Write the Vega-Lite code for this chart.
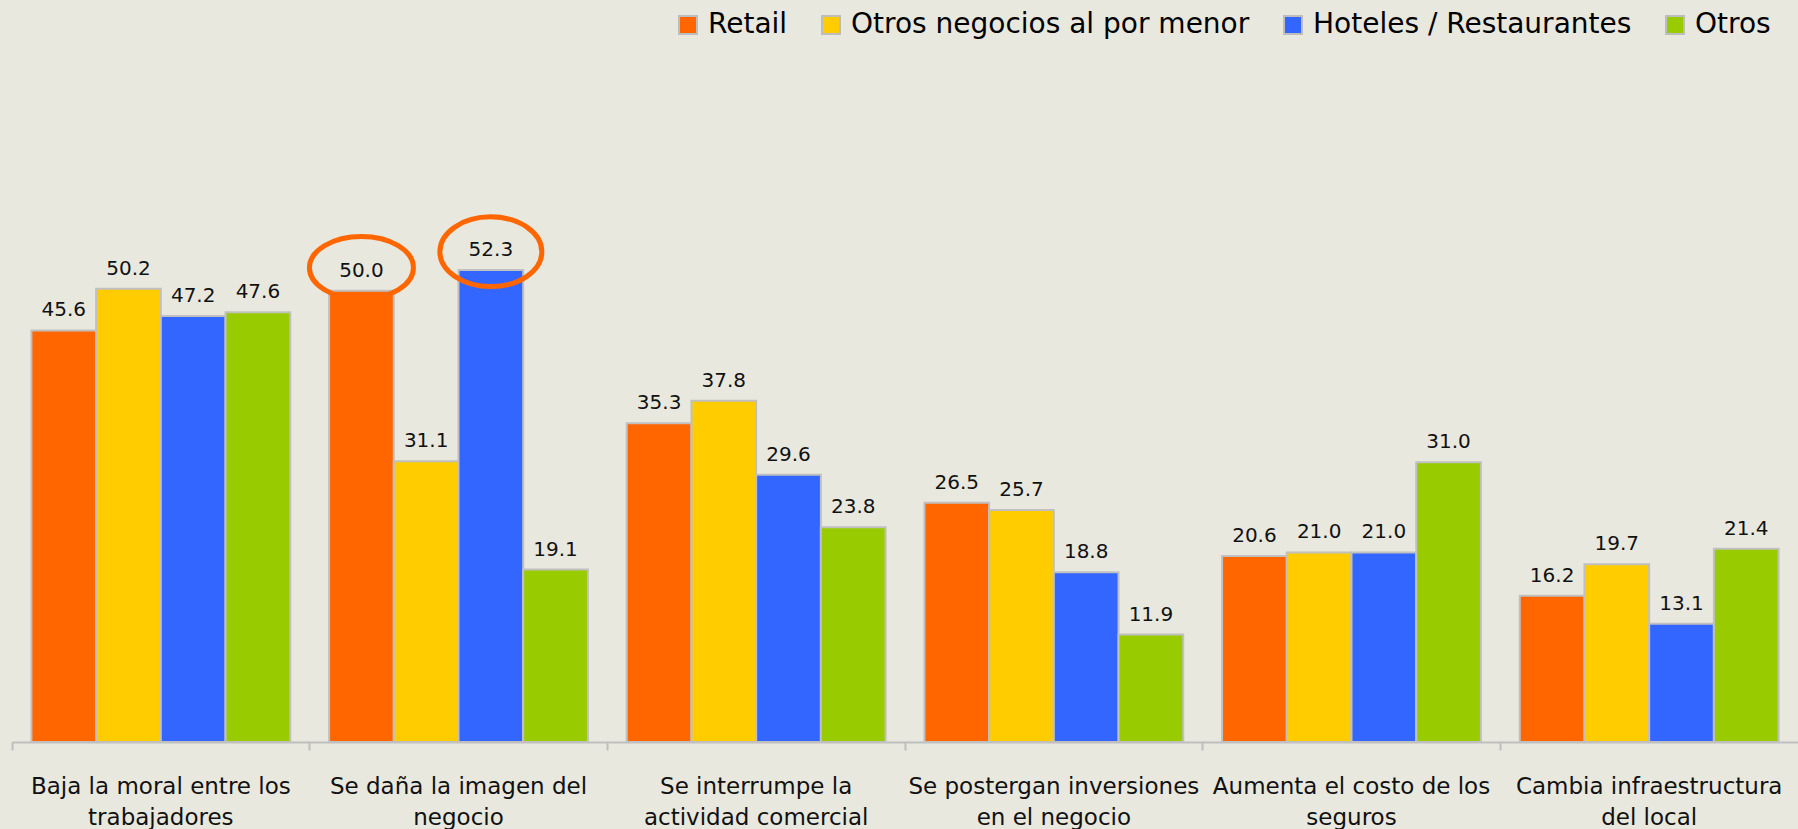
{
  "$schema": "https://vega.github.io/schema/vega-lite/v6.json",
  "width": 1786,
  "height": 742,
  "autosize": {"type": "none"},
  "padding": {"left": 12, "top": 0, "right": 0, "bottom": 87},
  "background": "#E8E8DE",
  "config": {"view": {"stroke": null}, "font": "DejaVu Sans"},
  "data": {
    "values": [
      {"category": "Baja la moral entre los trabajadores", "series": "Retail", "value": 45.6},
      {"category": "Baja la moral entre los trabajadores", "series": "Otros negocios al por menor", "value": 50.2},
      {"category": "Baja la moral entre los trabajadores", "series": "Hoteles / Restaurantes", "value": 47.2},
      {"category": "Baja la moral entre los trabajadores", "series": "Otros", "value": 47.6},
      {"category": "Se daña la imagen del negocio", "series": "Retail", "value": 50.0},
      {"category": "Se daña la imagen del negocio", "series": "Otros negocios al por menor", "value": 31.1},
      {"category": "Se daña la imagen del negocio", "series": "Hoteles / Restaurantes", "value": 52.3},
      {"category": "Se daña la imagen del negocio", "series": "Otros", "value": 19.1},
      {"category": "Se interrumpe la actividad comercial", "series": "Retail", "value": 35.3},
      {"category": "Se interrumpe la actividad comercial", "series": "Otros negocios al por menor", "value": 37.8},
      {"category": "Se interrumpe la actividad comercial", "series": "Hoteles / Restaurantes", "value": 29.6},
      {"category": "Se interrumpe la actividad comercial", "series": "Otros", "value": 23.8},
      {"category": "Se postergan inversiones en el negocio", "series": "Retail", "value": 26.5},
      {"category": "Se postergan inversiones en el negocio", "series": "Otros negocios al por menor", "value": 25.7},
      {"category": "Se postergan inversiones en el negocio", "series": "Hoteles / Restaurantes", "value": 18.8},
      {"category": "Se postergan inversiones en el negocio", "series": "Otros", "value": 11.9},
      {"category": "Aumenta el costo de los seguros", "series": "Retail", "value": 20.6},
      {"category": "Aumenta el costo de los seguros", "series": "Otros negocios al por menor", "value": 21.0},
      {"category": "Aumenta el costo de los seguros", "series": "Hoteles / Restaurantes", "value": 21.0},
      {"category": "Aumenta el costo de los seguros", "series": "Otros", "value": 31.0},
      {"category": "Cambia infraestructura del local", "series": "Retail", "value": 16.2},
      {"category": "Cambia infraestructura del local", "series": "Otros negocios al por menor", "value": 19.7},
      {"category": "Cambia infraestructura del local", "series": "Hoteles / Restaurantes", "value": 13.1},
      {"category": "Cambia infraestructura del local", "series": "Otros", "value": 21.4}
    ]
  },
  "encoding": {
    "x": {
      "field": "category",
      "type": "nominal",
      "sort": null,
      "scale": {"paddingInner": 0, "paddingOuter": 0},
      "axis": {
        "title": null,
        "labelAngle": 0,
        "bandPosition": 0,
        "tickSize": 8,
        "tickWidth": 2,
        "tickColor": "#BFBFBF",
        "domainColor": "#BFBFBF",
        "domainWidth": 2,
        "labelFont": "DejaVu Sans",
        "labelFontSize": 23,
        "labelColor": "#111111",
        "labelLineHeight": 31,
        "labelPadding": 25,
        "labelLimit": 400,
        "labelOverlap": false,
        "labelExpr": "{'Baja la moral entre los trabajadores': ['Baja la moral entre los', 'trabajadores'], 'Se daña la imagen del negocio': ['Se daña la imagen del', 'negocio'], 'Se interrumpe la actividad comercial': ['Se interrumpe la', 'actividad comercial'], 'Se postergan inversiones en el negocio': ['Se postergan inversiones', 'en el negocio'], 'Aumenta el costo de los seguros': ['Aumenta el costo de los', 'seguros'], 'Cambia infraestructura del local': ['Cambia infraestructura', 'del local']}[datum.value]"
      }
    },
    "xOffset": {
      "field": "series",
      "type": "nominal",
      "sort": ["Retail", "Otros negocios al por menor", "Hoteles / Restaurantes", "Otros"],
      "scale": {"paddingInner": 0, "paddingOuter": 0.3}
    },
    "y": {
      "field": "value",
      "type": "quantitative",
      "scale": {"domain": [0, 82.2], "nice": false, "zero": true},
      "axis": null
    }
  },
  "layer": [
    {
      "mark": {"type": "bar", "stroke": "#C0C0C0", "strokeWidth": 2},
      "encoding": {
        "color": {
          "field": "series",
          "type": "nominal",
          "sort": ["Retail", "Otros negocios al por menor", "Hoteles / Restaurantes", "Otros"],
          "scale": {
            "domain": ["Retail", "Otros negocios al por menor", "Hoteles / Restaurantes", "Otros"],
            "range": ["#FF6600", "#FFCC00", "#3366FF", "#99CC00"]
          },
          "legend": {
            "orient": "none",
            "legendX": 662,
            "legendY": 11,
            "direction": "horizontal",
            "title": null,
            "padding": 0,
            "symbolType": "square",
            "symbolSize": 324,
            "symbolStrokeColor": "#BDBDBD",
            "symbolStrokeWidth": 2,
            "symbolOpacity": 1,
            "labelFont": "DejaVu Sans",
            "labelFontSize": 28,
            "labelColor": "#000000",
            "labelOffset": 6,
            "labelLimit": 1000,
            "columnPadding": 29
          }
        }
      }
    },
    {
      "mark": {"type": "text", "baseline": "alphabetic", "dy": -14, "fontSize": 20, "font": "DejaVu Sans", "color": "#111111"},
      "encoding": {
        "text": {"field": "value", "type": "quantitative", "format": ".1f"}
      }
    },
    {
      "transform": [
        {"filter": "(datum.category == 'Se daña la imagen del negocio') && (datum.series == 'Retail' || datum.series == 'Hoteles / Restaurantes')"}
      ],
      "mark": {"type": "point", "filled": false, "stroke": "#FF6600", "strokeWidth": 5, "opacity": 1, "size": 10816},
      "encoding": {
        "shape": {
          "field": "series",
          "type": "nominal",
          "scale": {
            "domain": ["Retail", "Hoteles / Restaurantes"],
            "range": [
              "M -1 -0.44 A 1 0.6 0 1 0 1 -0.44 A 1 0.6 0 1 0 -1 -0.44 Z",
              "M -0.98 -0.35 A 0.98 0.67 0 1 0 0.98 -0.35 A 0.98 0.67 0 1 0 -0.98 -0.35 Z"
            ]
          },
          "legend": null
        }
      }
    }
  ]
}
